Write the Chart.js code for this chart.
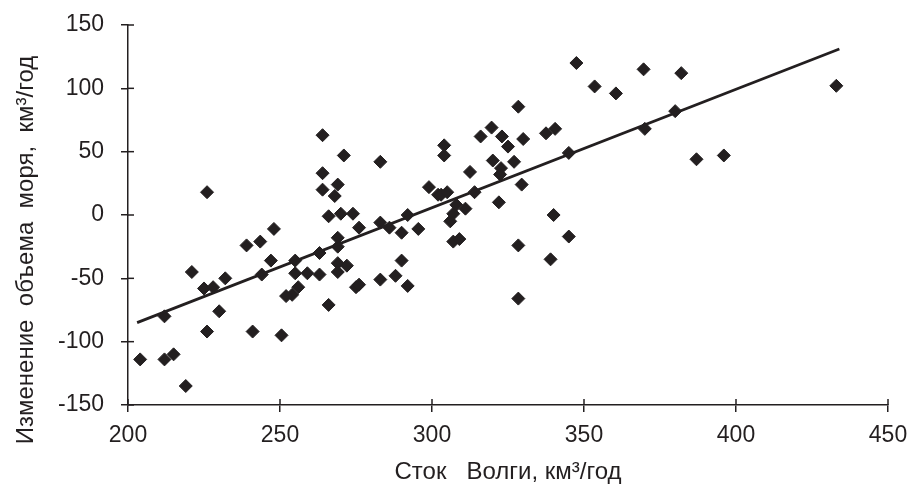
<!DOCTYPE html>
<html>
<head>
<meta charset="utf-8">
<script src="https://cdn.jsdelivr.net/npm/chart.js@4/dist/chart.umd.min.js"></script>
<style>
  html, body { margin: 0; padding: 0; background: #fff; }
  #wrap { width: 909px; height: 484px; }
</style>
</head>
<body>
<div id="wrap"><canvas id="volgaChart" width="909" height="484"></canvas></div>
<script>
// Сток Волги (км3/год) и изменение объема моря (км3/год) по годам
var volgaFlow = [
  204, 212, 212, 215, 219, 221, 225, 226, 226, 228,
  230, 232, 239, 241, 243.5, 244, 247, 248, 250.5, 255,
  255, 259, 256, 254, 252, 263, 263, 264, 264, 264,
  269, 268, 266, 270, 274, 271, 283, 269, 269, 269,
  272, 269, 266, 275, 276, 276, 283, 283, 286, 288,
  290, 290, 292, 292, 295.5, 299, 302, 303, 305, 304,
  304, 306, 307, 308, 311, 307, 309, 312.5, 314, 316,
  319.6, 323, 320, 322.7, 322.4, 322, 325, 327, 328.4, 330,
  329.5, 328.4, 328.4, 337.5, 340.5, 339, 340, 345, 345, 347.5,
  353.5, 360.5, 369.6, 370, 380, 382, 387, 396, 433
];
var seaChange = [
  -114, -114, -80, -110, -135, -45, -58, 18, -92, -57,
  -76, -50, -24, -92, -21, -47, -36, -11, -95, -36,
  -46, -46, -57, -63, -64, -47, -30, 63, 33, 20,
  24, 15, -1, 1, 1, 47, 42, -18, -25, -38,
  -40, -45, -71, -57, -55, -10, -51, -6, -10, -48,
  -14, -36, 0, -56, -11, 22, 16, 16, 18, 55,
  47, -5, 1, 8, 5, -21, -19, 34, 18, 62,
  69, 62, 43, 37, 32, 10, 54, 42, 85.5, 60,
  24, -24, -66, 64.5, 68, -35, 0, 49, -17, 120,
  101.5, 96, 115, 68, 82, 112, 44, 47, 102
];
// линия регрессии
var trendX = [203, 434];
var trendY = [-85, 131];

var xTicks = [200, 250, 300, 350, 400, 450];
var yTicks = [-150, -100, -50, 0, 50, 100, 150];
var xTitle = 'Сток   Волги, км³/год';
var yTitle = 'Изменение  объема  моря,  км³/год';

var ink = '#231f20';
var fontFamily = '"Liberation Sans", Arial, sans-serif';

var points = volgaFlow.map(function (x, i) { return { x: x, y: seaChange[i] }; });
var trend = trendX.map(function (x, i) { return { x: x, y: trendY[i] }; });

// засечки внутрь области графика и подписи осей
var axisExtras = {
  id: 'axisExtras',
  afterDraw: function (chart) {
    var ctx = chart.ctx;
    var xs = chart.scales.x, ys = chart.scales.y;
    ctx.save();
    ctx.strokeStyle = ink;
    ctx.lineWidth = 1.5;
    xTicks.forEach(function (v) {
      var px = xs.getPixelForValue(v);
      ctx.beginPath();
      ctx.moveTo(px, ys.bottom);
      ctx.lineTo(px, ys.bottom - 6);
      ctx.stroke();
    });
    yTicks.forEach(function (v) {
      var py = ys.getPixelForValue(v);
      ctx.beginPath();
      ctx.moveTo(xs.left, py);
      ctx.lineTo(xs.left + 6, py);
      ctx.stroke();
    });
    ctx.fillStyle = ink;
    ctx.font = '24px ' + fontFamily;
    ctx.textAlign = 'center';
    ctx.textBaseline = 'alphabetic';
    ctx.fillText(xTitle, (xs.left + xs.right) / 2, 479);
    ctx.translate(33, 250);
    ctx.rotate(-Math.PI / 2);
    ctx.fillText(yTitle, 0, 0);
    ctx.restore();
  }
};

var ctx = document.getElementById('volgaChart').getContext('2d');
var volgaChart = new Chart(ctx, {
  type: 'scatter',
  data: {
    datasets: [{
      label: 'Тренд',
      data: trend,
      showLine: true,
      borderColor: ink,
      borderWidth: 2.8,
      pointRadius: 0,
      fill: false
    }, {
      label: 'Годы',
      data: points,
      pointStyle: 'rectRot',
      pointRadius: 6.5,
      borderWidth: 1,
      backgroundColor: ink,
      borderColor: ink
    }]
  },
  options: {
    responsive: false,
    animation: false,
    layout: { padding: { left: 0, top: 25, right: 21, bottom: 0 } },
    plugins: {
      legend: { display: false },
      tooltip: { enabled: false }
    },
    scales: {
      x: {
        type: 'linear',
        min: 200,
        max: 450,
        afterBuildTicks: function (scale) {
          scale.ticks = xTicks.map(function (v) { return { value: v }; });
        },
        afterFit: function (scale) {
          scale.height = 79;
          scale.paddingLeft = 0;
          scale.paddingRight = 0;
        },
        ticks: {
          color: ink,
          padding: 10,
          font: { family: fontFamily, size: 23 }
        },
        grid: { drawOnChartArea: false, drawTicks: true, tickLength: 7, color: ink, lineWidth: 1.5 },
        border: { color: ink, width: 1.5 }
      },
      y: {
        type: 'linear',
        min: -150,
        max: 150,
        afterBuildTicks: function (scale) {
          scale.ticks = yTicks.map(function (v) { return { value: v }; });
        },
        afterFit: function (scale) {
          scale.width = 128;
          scale.paddingTop = 0;
          scale.paddingBottom = 0;
        },
        ticks: {
          color: ink,
          padding: 17,
          font: { family: fontFamily, size: 23 }
        },
        grid: { drawOnChartArea: false, drawTicks: true, tickLength: 7, color: ink, lineWidth: 1.5 },
        border: { color: ink, width: 1.5 }
      }
    }
  },
  plugins: [axisExtras]
});
</script>
</body>
</html>
